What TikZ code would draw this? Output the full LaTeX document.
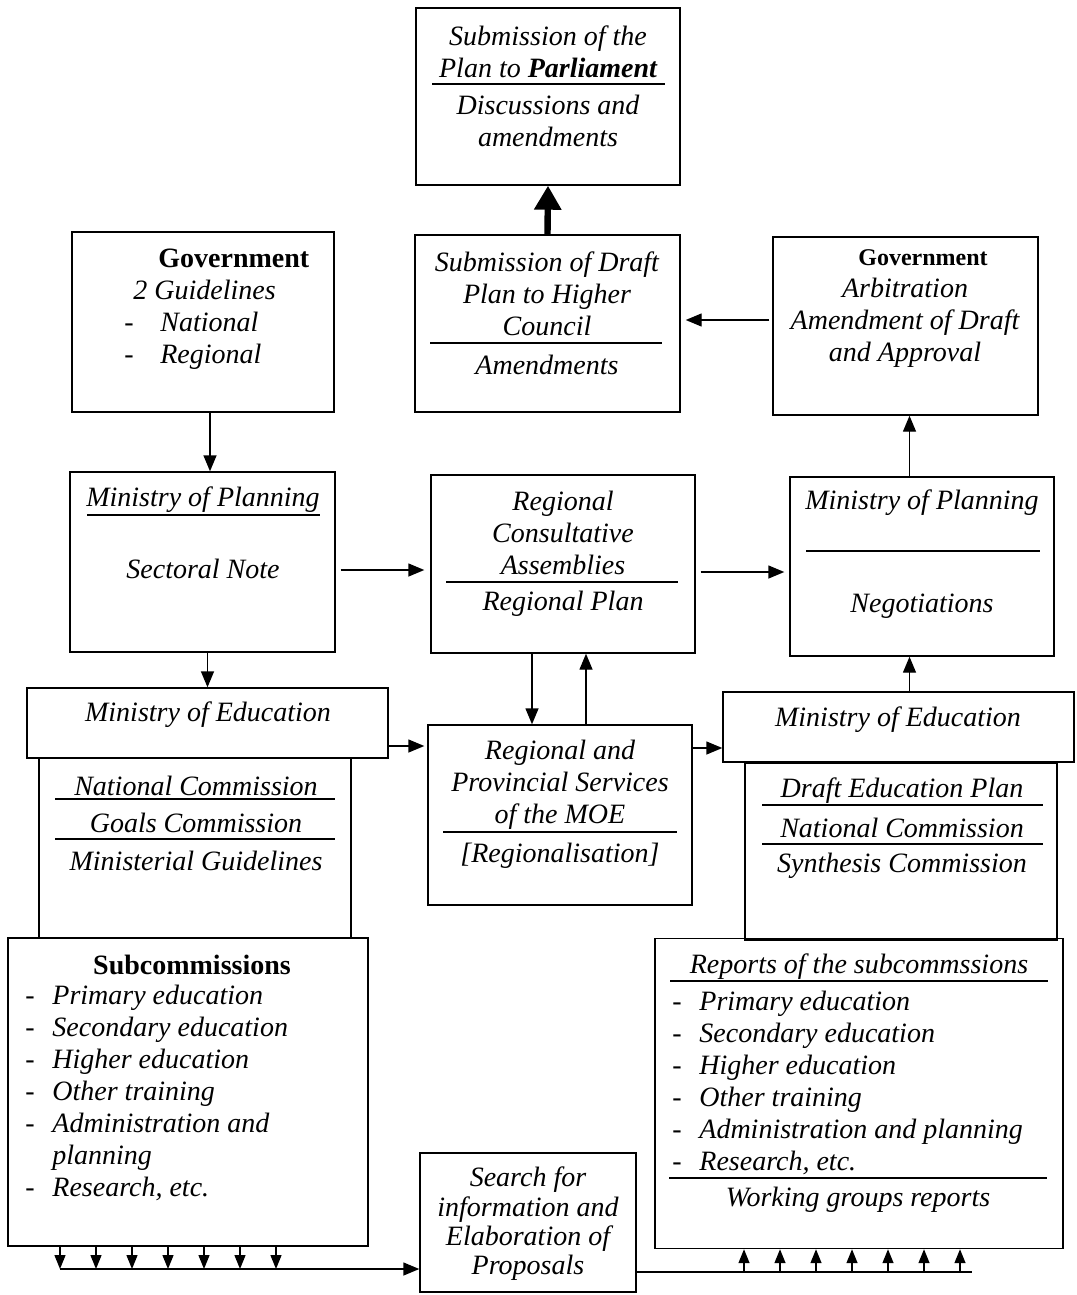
\documentclass[tikz,border=0pt]{standalone}
\usepackage{fontspec}
\setmainfont{Liberation Serif}
\usetikzlibrary{arrows.meta,calc}

\begin{document}
\begin{tikzpicture}[x=0.5pt,y=-0.5pt,
  box/.style={draw,line width=0.7pt,inner sep=0pt},
  txt/.style={font=\fontsize{14}{16}\selectfont\itshape,align=center,inner sep=0pt,yshift=-1.5pt},
  bld/.style={font=\fontsize{14}{16}\selectfont\bfseries,inner sep=0pt,yshift=-1pt},
  lst/.style={font=\fontsize{14}{16}\selectfont\itshape,align=left,inner sep=0pt,anchor=west,yshift=-1.5pt},
  rul/.style={line width=1.3pt},
  arr/.style={line width=0.7pt,-{Triangle[length=8pt,width=6.5pt]}},
  sarr/.style={line width=0.7pt,-{Triangle[length=7pt,width=5.5pt]}},
  bigarr/.style={line width=3.2pt,-{Triangle[length=12pt,width=13pt]}}]
\useasboundingbox (0,0) rectangle (1076,1295);
% boxes
\node[box,minimum width=132pt,minimum height=88.5pt] (parl) at (548,96.5) {};
\node[box,minimum width=131pt,minimum height=90pt] (gov1) at (203,322) {};
\node[box,minimum width=132.5pt,minimum height=88.5pt] (draft) at (547.5,323.5) {};
\node[box,minimum width=132.5pt,minimum height=89pt] (gov2) at (905.5,326) {};
\node[box,minimum width=132.5pt,minimum height=90pt] (mop1) at (202.5,562) {};
\node[box,minimum width=132pt,minimum height=89pt] (rca) at (563,564) {};
\node[box,minimum width=132pt,minimum height=89.5pt] (mop2) at (922,566.5) {};
\node[box,minimum width=180.5pt,minimum height=35pt] (moe1h) at (207.5,723) {};
\node[box,minimum width=156pt,minimum height=90pt] (moe1) at (195,848) {};
\node[box,minimum width=132pt,minimum height=90pt] (rps) at (560,815) {};
\node[box,minimum width=175.5pt,minimum height=35pt] (moe2h) at (898.5,727) {};
\node[box,minimum width=156pt,minimum height=88.5pt] (moe2) at (901,851.5) {};
\node[box,minimum width=180pt,minimum height=154pt] (subc) at (188,1092) {};
\node[box,minimum width=204pt,minimum height=155pt] (reports) at (859,1093.5) {};
\node[box,minimum width=108pt,minimum height=69.5pt] (search) at (528,1222.5) {};
% texts
\node[txt] (parlA) at (548,48.5) {Submission of the\\Plan to \textbf{Parliament}};
\draw[rul] (432,84) -- (665,84);
\node[txt] (parlB) at (548,117.5) {Discussions and\\amendments};
\node[lst] (gov1T) at (124,306) {\hspace*{17pt}{\upshape\bfseries Government}\\\hspace*{4.5pt}2 Guidelines\\\makebox[18pt][l]{-}National\\\makebox[18pt][l]{-}Regional};
\node[txt] (gov2T) at (905,306) {\hspace*{18pt}{\upshape\bfseries\fontsize{12}{16}\selectfont Government}\\Arbitration\\Amendment of Draft\\and Approval};
\node[txt] (draftA) at (547,291) {Submission of Draft\\Plan to Higher\\Council};
\draw[rul] (430,343) -- (662,343);
\node[txt] (draftB) at (547,362) {Amendments};
\node[txt] (mop1A) at (203,497) {Ministry of Planning};
\draw[rul] (87,515) -- (320,515);
\node[txt] (mop1B) at (203,566) {Sectoral Note};
\node[txt] (rcaA) at (563,530) {Regional\\Consultative\\Assemblies};
\draw[rul] (446,582) -- (678,582);
\node[txt] (rcaB) at (563,601) {Regional Plan};
\node[txt] (mop2A) at (922,500) {Ministry of Planning};
\draw[rul] (806,551) -- (1040,551);
\node[txt] (mop2B) at (922,603) {Negotiations};
\node[txt] (moe1A) at (208,712) {Ministry of Education};
\node[txt] (moe1B) at (196,783) {National Commission};
\draw[rul] (55,799) -- (335,799);
\node[txt] (moe1C) at (196,820) {Goals Commission};
\draw[rul] (55,839) -- (335,839);
\node[txt] (moe1D) at (196,858) {Ministerial Guidelines};
\node[txt] (rpsA) at (560,782) {Regional and\\Provincial Services\\of the MOE};
\draw[rul] (443,832) -- (677,832);
\node[txt] (rpsB) at (560,853) {[Regionalisation]};
\node[txt] (moe2A) at (898,717) {Ministry of Education};
\node[txt] (moe2B) at (902,788) {Draft Education Plan};
\draw[rul] (762,805) -- (1043,805);
\node[txt] (moe2C) at (902,825) {National Commission};
\draw[rul] (762,844) -- (1043,844);
\node[txt] (moe2D) at (902,863) {Synthesis Commission};
\node[bld] (subcA) at (192,963) {Subcommissions};
\node[lst] (subcB) at (25,1089.5) {\makebox[13.5pt][l]{-}Primary education\\\makebox[13.5pt][l]{-}Secondary education\\\makebox[13.5pt][l]{-}Higher education\\\makebox[13.5pt][l]{-}Other training\\\makebox[13.5pt][l]{-}Administration and\\\hspace*{13.5pt}planning\\\makebox[13.5pt][l]{-}Research, etc.};
\node[txt] (repA) at (859,964) {Reports of the subcommssions};
\draw[rul] (670,981) -- (1048,981);
\node[lst] (repB) at (672,1079.5) {\makebox[13.5pt][l]{-}Primary education\\\makebox[13.5pt][l]{-}Secondary education\\\makebox[13.5pt][l]{-}Higher education\\\makebox[13.5pt][l]{-}Other training\\\makebox[13.5pt][l]{-}Administration and planning\\\makebox[13.5pt][l]{-}Research, etc.};
\draw[rul] (669,1178) -- (1047,1178);
\node[txt] (repC) at (858,1197) {Working groups reports};
\node[txt,font=\fontsize{14}{14.7}\selectfont\itshape] (searchT) at (528,1221) {Search for\\information and\\Elaboration of\\Proposals};
% connectors
\draw[bigarr] (draft.north) -- (parl.south);
\coordinate (g1) at ([xshift=3.5pt]gov1.south);
\draw[arr] (g1) -- (g1 |- mop1.north);
\coordinate (m1) at ([xshift=2.5pt]mop1.south);
\draw[arr] (m1) -- (m1 |- moe1h.north);
\coordinate (h1) at ([yshift=-3pt]rca.west);
\draw[arr,shorten <=2.5pt,shorten >=3pt] (h1 -| mop1.east) -- (h1);
\coordinate (h2) at ([yshift=-4pt]rca.east);
\draw[arr,shorten <=2.5pt,shorten >=2.5pt] (h2) -- (h2 -| mop2.west);
\coordinate (h3) at ([yshift=3pt]gov2.west);
\draw[arr,shorten <=1.5pt,shorten >=2.5pt] (h3) -- (h3 -| draft.east);
\coordinate (dn) at ([xshift=-15.5pt]rca.south);
\coordinate (up) at ([xshift=11.5pt]rca.south);
\draw[arr] (dn) -- (dn |- rps.north);
\draw[arr] (up |- rps.north) -- (up);
\coordinate (e1) at ([yshift=-11.5pt]moe1h.east);
\draw[arr,shorten >=1.5pt] (e1) -- (e1 -| rps.west);
\coordinate (e2) at ([yshift=-10.5pt]moe2h.west);
\draw[arr] (e2 -| rps.east) -- (e2);
\coordinate (e3) at ([xshift=5.5pt]moe2h.north);
\draw[arr] (e3) -- (e3 |- mop2.south);
\draw[arr] (e3 |- mop2.north) -- (e3 |- gov2.south);
\coordinate (busL) at (60,1269);
\coordinate (busR0) at (744,1272);
\coordinate (busR) at (972,1272);
\foreach \i in {0,...,6}
  \draw[sarr] ($(busL |- subc.south)+(\i*18pt,0)$) -- ($(busL)+(\i*18pt,0)$);
\draw[arr] (busL) -- (busL -| search.west);
\draw[line width=0.7pt] (search.east |- busR) -- (busR);
\foreach \i in {0,...,6}
  \draw[sarr] ($(busR0)+(\i*18pt,0)$) -- ($(busR0 |- reports.south)+(\i*18pt,0)$);
\end{tikzpicture}
\end{document}
